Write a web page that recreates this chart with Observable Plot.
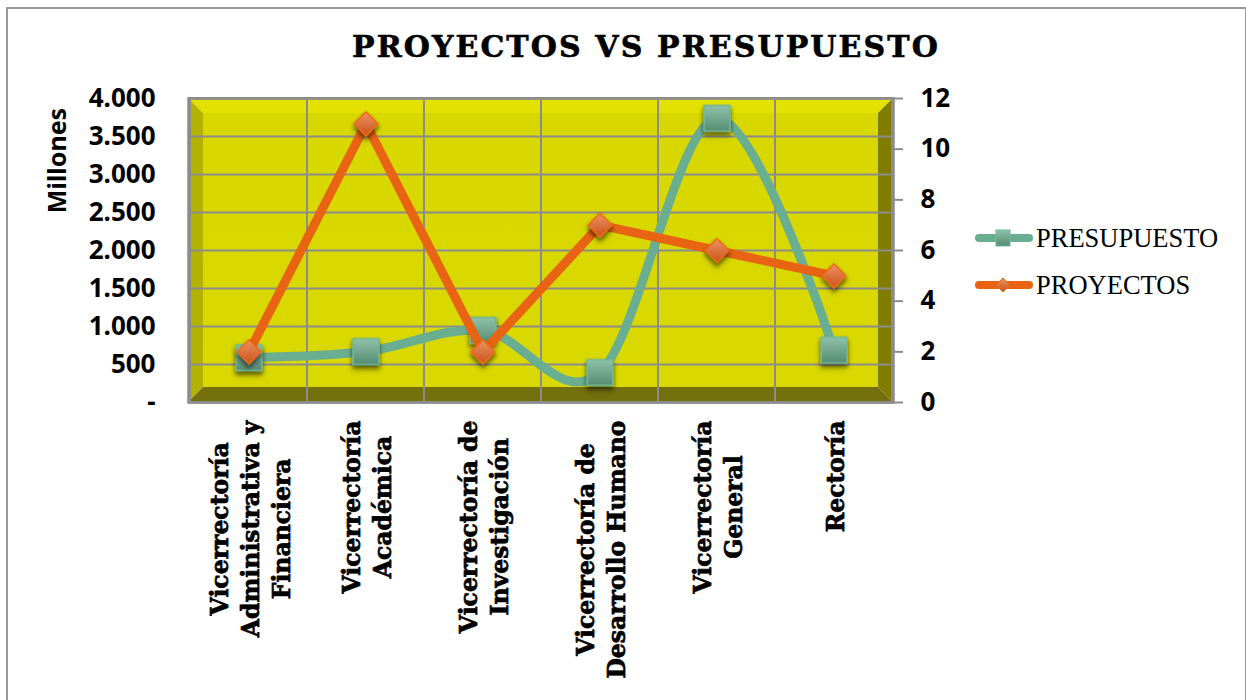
<!DOCTYPE html>
<html>
<head>
<meta charset="utf-8">
<script src="https://cdn.jsdelivr.net/npm/d3@7"></script>
<script src="https://cdn.jsdelivr.net/npm/@observablehq/plot@0.6"></script>
<style>
  body { margin: 0; background: #fff; }
  #wrap { position: relative; width: 1246px; height: 700px; overflow: hidden; background: #fff; }
  #border { position: absolute; left: 6px; top: 7px; width: 1237px; height: 760px; border: 2px solid #9a9a9a; pointer-events: none; }
  #title { position: relative; height: 80px; }
  #title span { position: absolute; left: 0; top: 32px; width: 1246px; padding-left: 46px; box-sizing: border-box;
    text-align: center; font: bold 30px "DejaVu Serif"; line-height: 1; letter-spacing: 2.1px; color: #000;
    -webkit-text-stroke: 0.6px #000; }
  #chart { position: relative; }
  .leg { position: absolute; left: 972px; height: 24px; display: flex; align-items: center;
    font-family: "Liberation Serif"; font-size: 26.5px; color: #000; white-space: nowrap; }
  .leg svg { margin-right: 2px; }
</style>
</head>
<body>
<div id="wrap">
  <div id="border"></div>
  <div id="title"><span>PROYECTOS VS PRESUPUESTO</span></div>
  <div id="chart"></div>
  <div id="legend"></div>
</div>
<script>
// ---------- data ----------
const categories = [
  "Vicerrectoría Administrativa y Financiera",
  "Vicerrectoría Académica",
  "Vicerrectoría de Investigación",
  "Vicerrectoría de Desarrollo Humano",
  "Vicerrectoría General",
  "Rectoría"
];
const categoryLabels = [
  "Vicerrectoría\nAdministrativa y\nFinanciera",
  "Vicerrectoría\nAcadémica",
  "Vicerrectoría de\nInvestigación",
  "Vicerrectoría de\nDesarrollo Humano",
  "Vicerrectoría\nGeneral",
  "Rectoría"
];
const presupuesto = [590, 670, 950, 395, 3740, 690];   // millones
const proyectos = [2, 11, 2, 7, 6, 5];
const leftTicks = [0, 500, 1000, 1500, 2000, 2500, 3000, 3500, 4000];
const rightTicks = [0, 2, 4, 6, 8, 10, 12];
const seriesNames = ["PRESUPUESTO", "PROYECTOS"];

const leftMax = 4000, rightMax = 12;
const toLeft = v => v * leftMax / rightMax;
const rows = categories.map((c, i) => ({cat: c, label: categoryLabels[i], presupuesto: presupuesto[i], proyectos: proyectos[i]}));

// ---------- styling ----------
const TEAL = "#6aae92", ORANGE = "#e86412", GRID = "#8c8c8c";
const W = 1246, H = 620;
const M = {top: 18, right: 353, bottom: 298, left: 188};
const BEVEL = 15;
const labelFont = {family: "DejaVu Serif", size: 23.5};

const ctx = document.createElement("canvas").getContext("2d");
ctx.font = `bold ${labelFont.size}px "${labelFont.family}"`;
const maxLineWidth = s => d3.max(s.split("\n"), l => ctx.measureText(l).width);

const fmtLeft = d => d === 0 ? "-" : d3.format(",")(d).replace(/,/g, ".");

function backdrop(index, scales, values, dims) {
  const width = dims?.width ?? W, height = dims?.height ?? H;
  const x0 = dims?.marginLeft ?? M.left, x1 = width - (dims?.marginRight ?? M.right);
  const y0 = dims?.marginTop ?? M.top, y1 = height - (dims?.marginBottom ?? M.bottom);
  const d = BEVEL;
  const g = d3.create("svg:g");
  const defs = g.append("defs");
  const sq = defs.append("linearGradient").attr("id", "gSq").attr("x1", 0).attr("y1", 0).attr("x2", 0).attr("y2", 1);
  sq.append("stop").attr("offset", "0%").attr("stop-color", "#8fc2aa");
  sq.append("stop").attr("offset", "100%").attr("stop-color", "#558c72");
  const dm = defs.append("linearGradient").attr("id", "gDm").attr("x1", 0).attr("y1", 0).attr("x2", 0).attr("y2", 1);
  dm.append("stop").attr("offset", "0%").attr("stop-color", "#ee9364");
  dm.append("stop").attr("offset", "100%").attr("stop-color", "#c9531a");
  const f = defs.append("filter").attr("id", "shadow").attr("x", "-50%").attr("y", "-50%").attr("width", "200%").attr("height", "200%");
  f.append("feDropShadow").attr("dx", 0).attr("dy", 3).attr("stdDeviation", 2).attr("flood-color", "#000").attr("flood-opacity", 0.35);
  const wall = defs.append("linearGradient").attr("id", "gWall").attr("x1", 0).attr("y1", 0).attr("x2", 0).attr("y2", 1);
  wall.append("stop").attr("offset", "0%").attr("stop-color", "#d8d700");
  wall.append("stop").attr("offset", "100%").attr("stop-color", "#d9d800");
  const poly = (pts, fill) => g.append("polygon").attr("points", pts.map(p => p.join(",")).join(" ")).attr("fill", fill);
  g.append("rect").attr("x", x0 + d).attr("y", y0 + d).attr("width", x1 - x0 - 2 * d).attr("height", y1 - y0 - 2 * d).attr("fill", "url(#gWall)");
  poly([[x0, y0], [x1, y0], [x1 - d, y0 + d], [x0 + d, y0 + d]], "#e2e100");
  poly([[x0, y0], [x0 + d, y0 + d], [x0 + d, y1 - d], [x0, y1]], "#b4b200");
  poly([[x1, y0], [x1, y1], [x1 - d, y1 - d], [x1 - d, y0 + d]], "#7f7c00");
  poly([[x0, y1], [x0 + d, y1 - d], [x1 - d, y1 - d], [x1, y1]], "#73700d");
  return g.node();
}

const labelMarks = categories.map((c, i) => Plot.text([c], {
  x: d => d,
  frameAnchor: "bottom",
  text: () => categoryLabels[i],
  rotate: -90,
  textAnchor: "middle",
  lineAnchor: "middle",
  lineHeight: 1.32,
  dy: 18 + maxLineWidth(categoryLabels[i]) / 2,
  fontFamily: labelFont.family,
  fontSize: labelFont.size,
  fontWeight: "bold",
  fill: "#000",
  stroke: "#000",
  strokeWidth: 0.7
}));

const chart = Plot.plot({
  width: W,
  height: H,
  marginTop: M.top, marginRight: M.right, marginBottom: M.bottom, marginLeft: M.left,
  style: {fontFamily: "'Noto Sans'", fontSize: "26px", fontWeight: "bold", color: "#000", background: "transparent", overflow: "visible"},
  x: {type: "band", domain: categories, padding: 0, axis: null},
  y: {domain: [0, leftMax], axis: null},
  marks: [
    backdrop,
    Plot.cell(categories, {x: d => d, fill: "none", stroke: GRID, strokeWidth: 2, inset: 0}),
    Plot.gridY(leftTicks, {stroke: GRID, strokeOpacity: 1, strokeWidth: 2}),
    Plot.frame({stroke: GRID, strokeWidth: 2.5}),
    Plot.axisY(leftTicks, {anchor: "left", label: null, tickSize: 0, tickPadding: 33, tickFormat: fmtLeft, fontSize: 26, fontWeight: "bold", fill: "#000"}),
    Plot.axisY(rightTicks.map(toLeft), {anchor: "right", label: null, tickSize: 9, tickPadding: 18, stroke: GRID, strokeWidth: 2,
      tickFormat: d => String(Math.round(d * rightMax / leftMax)), fontSize: 26, fontWeight: "bold", fill: "#000", textAnchor: "start"}),
    Plot.text(["Millones"], {frameAnchor: "top-left", dx: -140, dy: 62, rotate: -90, textAnchor: "middle", fontSize: 25, fontWeight: "bold", fill: "#000"}),
    ...labelMarks,
    Plot.line(rows, {x: "cat", y: "presupuesto", stroke: TEAL, strokeWidth: 9, curve: "cardinal", tension: 0, strokeLinecap: "round"}),
    Plot.dot(rows, {x: "cat", y: "presupuesto", symbol: "square", r: 14.5, fill: "url(#gSq)", stroke: "#6fb79b", strokeWidth: 1.5, className: "mk"}),
    Plot.line(rows, {x: "cat", y: d => toLeft(d.proyectos), stroke: ORANGE, strokeWidth: 9, strokeLinejoin: "round", strokeLinecap: "round"}),
    Plot.dot(rows, {x: "cat", y: d => toLeft(d.proyectos), symbol: "diamond2", r: 10.8, fill: "url(#gDm)", stroke: "#ee6a1a", strokeWidth: 1.5, className: "mk"})
  ]
});
document.getElementById("chart").appendChild(chart);
const st = document.createElement("style");
st.textContent = ".mk path, .mk { filter: url(#shadow); }";
document.head.appendChild(st);

// ---------- legend ----------
const legend = document.getElementById("legend");
const legendTops = [226, 273];
seriesNames.forEach((name, i) => {
  const item = document.createElement("div");
  item.className = "leg";
  item.style.top = legendTops[i] + "px";
  const color = i === 0 ? TEAL : ORANGE;
  const marker = i === 0
    ? `<rect x="24" y="4" width="14" height="16" fill="url(#gSqL)" stroke="#6fb79b" stroke-width="1"/>`
    : `<polygon points="31,5 38,12 31,19 24,12" fill="url(#gDmL)" stroke="#ee6a1a" stroke-width="1"/>`;
  item.innerHTML = `<svg width="62" height="24">
    <defs>
      <linearGradient id="gSqL" x1="0" y1="0" x2="0" y2="1"><stop offset="0" stop-color="#8fc2aa"/><stop offset="1" stop-color="#558c72"/></linearGradient>
      <linearGradient id="gDmL" x1="0" y1="0" x2="0" y2="1"><stop offset="0" stop-color="#ee9364"/><stop offset="1" stop-color="#c9531a"/></linearGradient>
    </defs>
    <line x1="7" y1="12" x2="57" y2="12" stroke="${color}" stroke-width="8" stroke-linecap="round"/>
    ${marker}
  </svg><span>${name}</span>`;
  legend.appendChild(item);
});
</script>
</body>
</html>
